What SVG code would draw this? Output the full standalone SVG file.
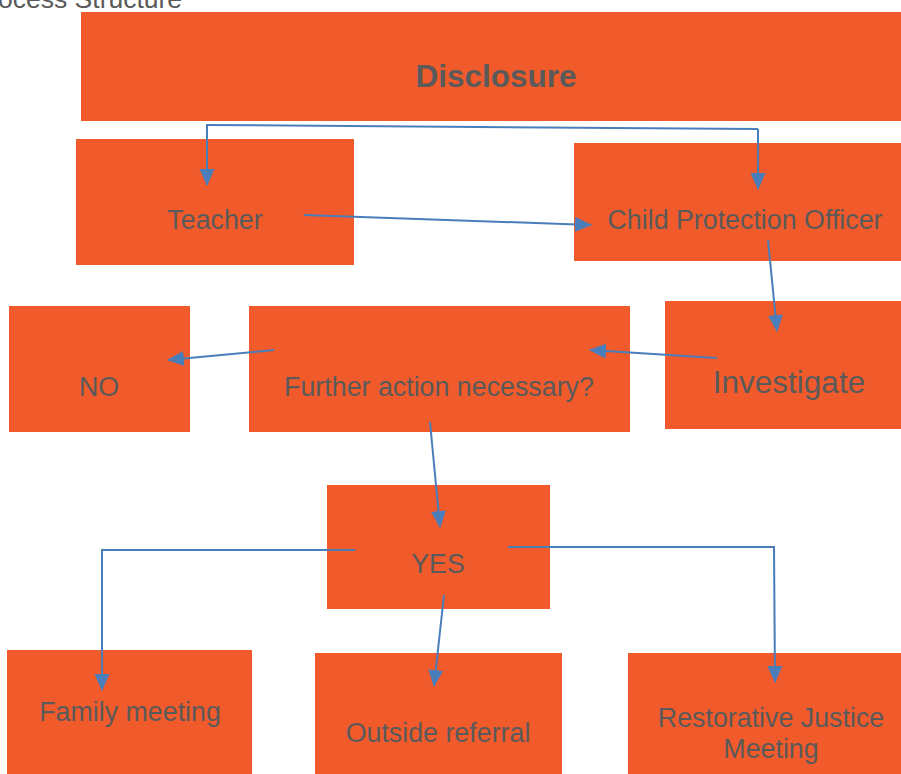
<svg xmlns="http://www.w3.org/2000/svg" width="901" height="774" viewBox="0 0 901 774">
<style>
.box{fill:#F15A2B}
.t{font-family:"Liberation Sans",Arial,sans-serif;fill:#5a5a5a;text-anchor:middle;font-size:26.8px}
.c{fill:none;stroke:#4a7ebb;stroke-width:2}
</style>
<defs>
<marker id="ah" markerUnits="userSpaceOnUse" markerWidth="18" markerHeight="16" refX="16" refY="7.5" orient="auto">
<path d="M0,0 L17,7.5 L0,15 Z" fill="#4a7ebb"/>
</marker>
</defs>
<text x="-2" y="8" style="font-family:'Liberation Sans',Arial,sans-serif;fill:#5a5a5a;font-size:26.5px">ocess Structure</text>
<g id="disclosure"><rect class="box" x="81" y="12" width="820" height="109"/><text class="t" x="496" y="87" style="font-weight:bold;font-size:31.5px">Disclosure</text></g>
<g id="teacher"><rect class="box" x="76" y="139" width="278" height="126"/><text class="t" x="215" y="229">Teacher</text></g>
<g id="cpo"><rect class="box" x="574" y="143" width="327" height="118"/><text class="t" x="745" y="229">Child Protection Officer</text></g>
<g id="no"><rect class="box" x="9" y="306" width="181" height="126"/><text class="t" x="99" y="396">NO</text></g>
<g id="further"><rect class="box" x="249" y="306" width="381" height="126"/><text class="t" x="439" y="396">Further action necessary?</text></g>
<g id="investigate"><rect class="box" x="665" y="301" width="236" height="128"/><text class="t" x="789" y="393" style="font-size:31.5px">Investigate</text></g>
<g id="yes"><rect class="box" x="327" y="485" width="223" height="124"/><text class="t" x="438" y="573">YES</text></g>
<g id="family"><rect class="box" x="7" y="650" width="245" height="124"/><text class="t" x="130" y="721">Family meeting</text></g>
<g id="outside"><rect class="box" x="315" y="653" width="247" height="121"/><text class="t" x="438" y="742">Outside referral</text></g>
<g id="restorative"><rect class="box" x="628" y="653" width="273" height="121"/><text class="t" x="771" y="727">Restorative Justice</text><text class="t" x="771" y="758">Meeting</text></g>
<g id="connectors">
<path class="c" d="M206,125 L758,129"/>
<path class="c" d="M207,125 L207,185" marker-end="url(#ah)"/>
<path class="c" d="M758,129 L758,189" marker-end="url(#ah)"/>
<path class="c" d="M304,215 L591,225" marker-end="url(#ah)"/>
<path class="c" d="M768,240 L777,331" marker-end="url(#ah)"/>
<path class="c" d="M717,358 L590,350" marker-end="url(#ah)"/>
<path class="c" d="M274,350 L168,360" marker-end="url(#ah)"/>
<path class="c" d="M430,422 L440,527" marker-end="url(#ah)"/>
<path class="c" d="M355,550 L102,550 L102,690" marker-end="url(#ah)"/>
<path class="c" d="M444,595 L434,686" marker-end="url(#ah)"/>
<path class="c" d="M508,547 L774,547 L775,682" marker-end="url(#ah)"/>
</g>
</svg>
